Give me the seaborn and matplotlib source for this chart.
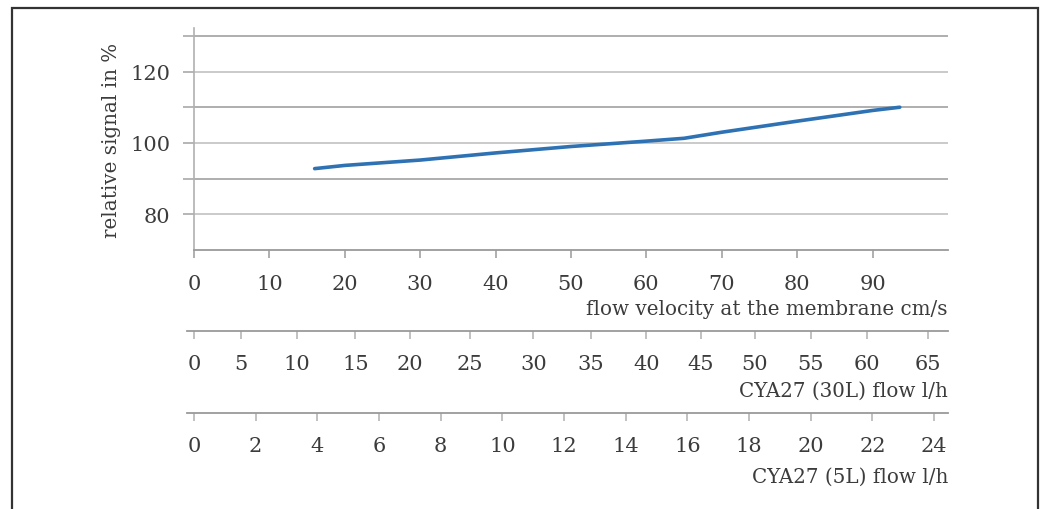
import matplotlib
matplotlib.use("Agg")
import matplotlib.pyplot as plt
from matplotlib.patches import Rectangle
import seaborn as sns

# curve
velocity = [16.0, 20, 30, 40, 50, 60, 65, 70, 80, 90, 93.6]
signal = [92.8, 93.7, 95.2, 97.2, 99.0, 100.5, 101.3, 103.0, 106.1, 109.1, 110.0]

velocity_ticks = [0, 10, 20, 30, 40, 50, 60, 70, 80, 90]
signal_major = [80, 100, 120]
signal_minor = [90, 110, 130]

# CYA27 (30L) flow and the matching velocity on the main scale
flow30_labels = [0, 5, 10, 15, 20, 25, 30, 35, 40, 45, 50, 55, 60, 65]
flow30_at_velocity = [0, 6.2, 13.6, 21.4, 28.6, 36.6, 45.0, 52.6, 60.0, 67.2, 74.4, 81.8, 89.3, 97.3]

# CYA27 (5L) flow
flow5_ticks = [0, 2, 4, 6, 8, 10, 12, 14, 16, 18, 20, 22, 24]
flow5_max = 24.45

sns.set_style("white")
plt.rcParams["font.family"] = ["DejaVu Serif", "DejaVu Sans"]

W, H = 1040, 510
text_col = "#3c3c3c"
axis_col = "#9a9a9a"
fs_tick = 15
fs_label = 14.3


def px(x0, y_top, x1, y_bot):
    return [x0 / W, 1 - y_bot / H, (x1 - x0) / W, (y_bot - y_top) / H]


fig = plt.figure(figsize=(W / 100, H / 100), dpi=100)

ax = fig.add_axes(px(194, 29, 948, 251))
sns.lineplot(x=velocity, y=signal, ax=ax, color="#2e72b4", linewidth=2.6)
ax.set_xlim(0, 100)
ax.set_ylim(70, 132.2)
ax.set_xticks(velocity_ticks)
ax.set_yticks(signal_major)
ax.set_yticks(signal_minor, minor=True)
ax.grid(False)
for v in signal_major:
    ax.axhline(v, color="#c6c6c6", lw=1.3, zorder=0)
for v in signal_minor:
    ax.axhline(v, color="#a8a8a8", lw=1.3, zorder=0)
for s in ["top", "right"]:
    ax.spines[s].set_visible(False)
ax.spines["left"].set_color("#b0b0b0")
ax.spines["bottom"].set_color(axis_col)
ax.spines["left"].set_linewidth(1.2)
ax.spines["bottom"].set_linewidth(1.3)
ax.tick_params(axis="y", which="both", left=True, direction="out", length=8, width=1.3,
               color="#b0b0b0", labelsize=fs_tick, labelcolor=text_col, pad=9)
ax.tick_params(axis="x", bottom=True, direction="out", length=5.5, width=1.1, color=axis_col,
               labelsize=fs_tick, labelcolor=text_col, pad=11.5)
ax.set_xlabel("")
ax.set_ylabel("relative signal in %", fontsize=fs_label, color=text_col, labelpad=7)
fig.text(948 / W, 1 - 310 / H, "flow velocity at the membrane cm/s",
         ha="right", va="center", fontsize=fs_label, color=text_col)


def flow_axis(y_line, xmax, ticks, labels, title, y_title):
    a = fig.add_axes(px(187, y_line - 1, 948, y_line))
    a.set_xlim(-7 / 7.533 * xmax / 100, xmax)
    a.set_ylim(0, 1)
    a.set_yticks([])
    for s in ["top", "right", "left"]:
        a.spines[s].set_visible(False)
    a.spines["bottom"].set_color(axis_col)
    a.spines["bottom"].set_linewidth(1.3)
    a.set_xticks(ticks)
    a.set_xticklabels(labels)
    a.tick_params(axis="x", bottom=True, direction="out", length=6, width=1.1, color="#b0b0b0",
                  labelsize=fs_tick, labelcolor=text_col, pad=10.5)
    a.patch.set_alpha(0)
    fig.text(948 / W, 1 - y_title / H, title, ha="right", va="center",
             fontsize=fs_label, color=text_col)


flow_axis(332, 100, flow30_at_velocity, [str(v) for v in flow30_labels],
          "CYA27 (30L) flow l/h", 391)
flow_axis(414, flow5_max, flow5_ticks, [str(v) for v in flow5_ticks],
          "CYA27 (5L) flow l/h", 477)

fig.patches.append(Rectangle((12 / W, -0.02), (1037.5 - 12) / W, 1.02 - 9 / H,
                             transform=fig.transFigure, fill=False,
                             edgecolor="#333333", linewidth=1.6))

fig.savefig("out.png", dpi=100)
